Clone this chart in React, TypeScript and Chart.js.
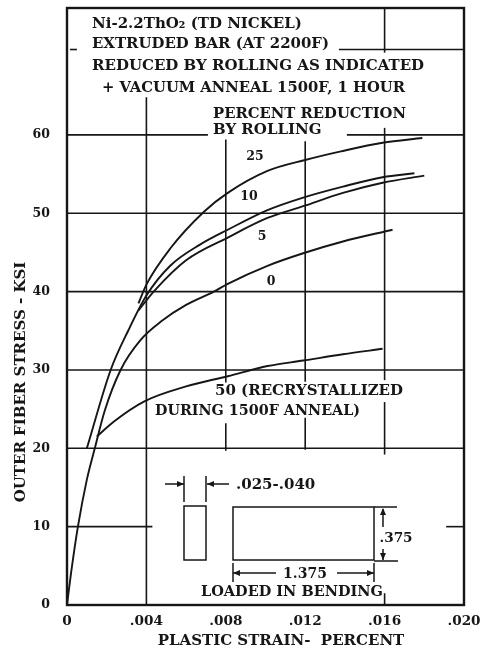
import React, { useEffect, useRef } from "react";
import { Chart, registerables } from "chart.js";

Chart.register(...registerables);

const xTicks = [0, 0.004, 0.008, 0.012, 0.016, 0.02];
const xTickLabels = ["0", ".004", ".008", ".012", ".016", ".020"];
const yTicks = [0, 10, 20, 30, 40, 50, 60];

const x25 = [0.0036, 0.004, 0.0052, 0.0069, 0.0081, 0.0101, 0.012, 0.0138, 0.0159, 0.0179];
const y25 = [38.5, 40.9, 45.5, 50.2, 52.6, 55.4, 56.8, 57.9, 59, 59.6];
const x10 = [0.001, 0.0022, 0.0031, 0.004, 0.0052, 0.0067, 0.0081, 0.0101, 0.0119, 0.0139, 0.0159, 0.0175];
const y10 = [20, 30, 35.1, 39.5, 43.3, 46, 47.9, 50.4, 52, 53.4, 54.6, 55.1];
const x5 = [0.0036, 0.0044, 0.006, 0.0081, 0.0101, 0.0119, 0.0139, 0.0159, 0.018];
const y5 = [37.6, 40.1, 44, 46.9, 49.4, 50.9, 52.6, 53.9, 54.8];
const x0 = [0, 0.0002, 0.00055, 0.001, 0.0014, 0.0019, 0.0027, 0.0037, 0.0048, 0.006, 0.0074, 0.0081, 0.0101, 0.0119, 0.0139, 0.0164];
const y0 = [0, 4, 10, 16, 20, 24.8, 30, 33.8, 36.3, 38.3, 40, 41, 43.3, 44.9, 46.4, 47.9];
const x50 = [0.0015, 0.00235, 0.0039, 0.006, 0.0081, 0.0101, 0.0119, 0.0139, 0.0159];
const y50 = [21.5, 23.4, 26, 27.9, 29.2, 30.5, 31.2, 32, 32.7];

const curves = [
  [x25, y25],
  [x10, y10],
  [x5, y5],
  [x0, y0],
  [x50, y50],
];

// Broken grid lines as the original has them: [value, from, to]
const hGrid = [
  [70.9, 0.00015, 0.0005],
  [70.9, 0.0137, 0.02],
  [60, 0, 0.0071],
  [60, 0.0141, 0.02],
  [50, 0, 0.02],
  [40, 0, 0.02],
  [30, 0, 0.02],
  [20, 0, 0.02],
  [10, 0, 0.0043],
  [10, 0.0191, 0.02],
];
const vGrid = [
  [0.004, 0, 64.8],
  [0.008, 19.7, 23.2],
  [0.008, 28.4, 59.4],
  [0.012, 19.8, 23.9],
  [0.012, 28.5, 59.2],
  [0.016, 1.5, 0],
  [0.016, 19.2, 25.9],
  [0.016, 28.7, 60.9],
  [0.016, 70.5, 76.2],
];

const FONT = "'DejaVu Serif'";
const SIZE = 15;
const TICK_X = 13.6;
const TICK_Y = 12.5;
const texts: [string, number, number, string, number, number][] = [
  // text, px x, px y, align, size, fit width
  ["Ni-2.2ThO₂ (TD NICKEL)", 92, 24, "left", SIZE, 213],
  ["EXTRUDED BAR (AT 2200F)", 92, 44, "left", SIZE, 237],
  ["REDUCED BY ROLLING AS INDICATED", 92, 66, "left", SIZE, 333],
  ["+ VACUUM ANNEAL 1500F, 1 HOUR", 102, 88, "left", SIZE, 303],
  ["PERCENT REDUCTION", 213, 114, "left", SIZE, 193],
  ["BY ROLLING", 213, 130, "left", SIZE, 109],
  ["25", 255, 157, "center", TICK_Y, 0],
  ["10", 249, 197, "center", TICK_Y, 0],
  ["5", 262, 237, "center", TICK_Y, 0],
  ["0", 271, 282, "center", TICK_Y, 0],
  ["50 (RECRYSTALLIZED", 215, 391, "left", SIZE, 191],
  ["DURING 1500F ANNEAL)", 155, 411, "left", SIZE, 205],
  [".025-.040", 236, 485, "left", SIZE, 80],
  [".375", 396, 538, "center", 13.6, 0],
  ["1.375", 305, 574, "center", 14, 0],
  ["LOADED IN BENDING", 292, 592, "center", SIZE, 182],
  ["PLASTIC STRAIN-  PERCENT", 281, 641, "center", SIZE, 247],
];

const insetRects = [
  [184, 506, 22, 54],
  [233, 507, 141, 53],
];
const insetLines = [
  [165, 484, 184, 484],
  [207, 484, 229, 484],
  [184, 476, 184, 502],
  [206, 476, 206, 502],
  [374, 507, 397, 507],
  [374, 561, 398, 561],
  [383, 509, 383, 527],
  [383, 549, 383, 560],
  [233, 573, 276, 573],
  [337, 573, 374, 573],
  [233, 563, 233, 582],
  [374, 563, 374, 582],
];

const INK = "#161616";

const paper = {
  id: "paper",
  beforeDatasetsDraw(chart: any) {
    const { ctx, scales, chartArea: a } = chart;
    ctx.save();
    ctx.strokeStyle = INK;
    ctx.lineWidth = 1.6;
    for (const [v, f, t] of hGrid) {
      const y = scales.y.getPixelForValue(v);
      ctx.beginPath();
      ctx.moveTo(scales.x.getPixelForValue(f), y);
      ctx.lineTo(scales.x.getPixelForValue(t), y);
      ctx.stroke();
    }
    for (const [v, f, t] of vGrid) {
      const x = scales.x.getPixelForValue(v);
      ctx.beginPath();
      ctx.moveTo(x, scales.y.getPixelForValue(f));
      ctx.lineTo(x, scales.y.getPixelForValue(t));
      ctx.stroke();
    }
    ctx.lineWidth = 2.4;
    ctx.strokeRect(a.left, a.top, a.right - a.left, a.bottom - a.top);
    ctx.restore();
  },
  afterDraw(chart: any) {
    const { ctx } = chart;
    ctx.save();
    ctx.fillStyle = INK;
    ctx.strokeStyle = INK;
    ctx.textBaseline = "middle";
    for (const [s, x, y, al, size, fit] of texts) {
      ctx.font = `bold ${size}px ${FONT}`;
      ctx.textAlign = al as CanvasTextAlign;
      if (fit) ctx.fillText(s, x, y, fit);
      else ctx.fillText(s, x, y);
    }
    ctx.save();
    ctx.translate(21, 382);
    ctx.rotate(-Math.PI / 2);
    ctx.textAlign = "center";
    ctx.font = `bold ${SIZE}px ${FONT}`;
    ctx.fillText("OUTER FIBER STRESS - KSI", 0, 0, 244);
    ctx.restore();

    ctx.lineWidth = 1.5;
    for (const [x, y, w, h] of insetRects) ctx.strokeRect(x, y, w, h);
    for (const [x1, y1, x2, y2] of insetLines) {
      ctx.beginPath();
      ctx.moveTo(x1, y1);
      ctx.lineTo(x2, y2);
      ctx.stroke();
    }
    const arrow = (x: number, y: number, dx: number, dy: number) => {
      ctx.beginPath();
      ctx.moveTo(x, y);
      ctx.lineTo(x - dx * 7 - dy * 3, y - dy * 7 - dx * 3);
      ctx.lineTo(x - dx * 7 + dy * 3, y - dy * 7 + dx * 3);
      ctx.closePath();
      ctx.fill();
    };
    arrow(184, 484, 1, 0);
    arrow(207, 484, -1, 0);
    arrow(383, 508, 0, -1);
    arrow(383, 560, 0, 1);
    arrow(233, 573, -1, 0);
    arrow(374, 573, 1, 0);
    ctx.restore();
  },
};

export default function App() {
  const ref = useRef<HTMLCanvasElement>(null);
  useEffect(() => {
    const chart = new Chart(ref.current as HTMLCanvasElement, {
      type: "line",
      data: {
        datasets: curves.map(([xs, ys]) => ({
          data: xs.map((x, i) => ({ x, y: ys[i] })),
          borderColor: INK,
          borderWidth: 1.9,
          pointRadius: 0,
          cubicInterpolationMode: "monotone",
          fill: false,
        })),
      } as any,
      options: {
        animation: false,
        responsive: false,
        layout: { padding: { top: 8, right: 21, left: 0, bottom: 0 } },
        plugins: { legend: { display: false }, tooltip: { enabled: false } },
        scales: {
          x: {
            type: "linear",
            min: 0,
            max: 0.02,
            grid: { display: false },
            border: { display: false },
            afterFit: (s: any) => {
              s.height = 48;
              s.paddingLeft = 0;
              s.paddingRight = 0;
            },
            afterBuildTicks: (s: any) => {
              s.ticks = xTicks.map((value) => ({ value }));
            },
            ticks: {
              autoSkip: false,
              maxRotation: 0,
              padding: 0,
              color: INK,
              font: { family: FONT, weight: "bold", size: TICK_X },
              callback: (v: any) => xTickLabels[xTicks.indexOf(v)],
            },
          },
          y: {
            type: "linear",
            min: 0,
            max: 76.2,
            grid: { display: false },
            border: { display: false },
            afterFit: (s: any) => {
              s.width = 67;
              s.paddingTop = 0;
              s.paddingBottom = 0;
            },
            afterBuildTicks: (s: any) => {
              s.ticks = yTicks.map((value) => ({ value }));
            },
            ticks: {
              padding: 9,
              color: INK,
              font: { family: FONT, weight: "bold", size: TICK_Y },
            },
          },
        },
      } as any,
      plugins: [paper],
    });
    return () => chart.destroy();
  }, []);
  return (
    <div style={{ position: "absolute", left: 0, top: 0, width: 485, height: 653, background: "#fff" }}>
      <canvas ref={ref} width={485} height={653} style={{ display: "block" }} />
    </div>
  );
}
